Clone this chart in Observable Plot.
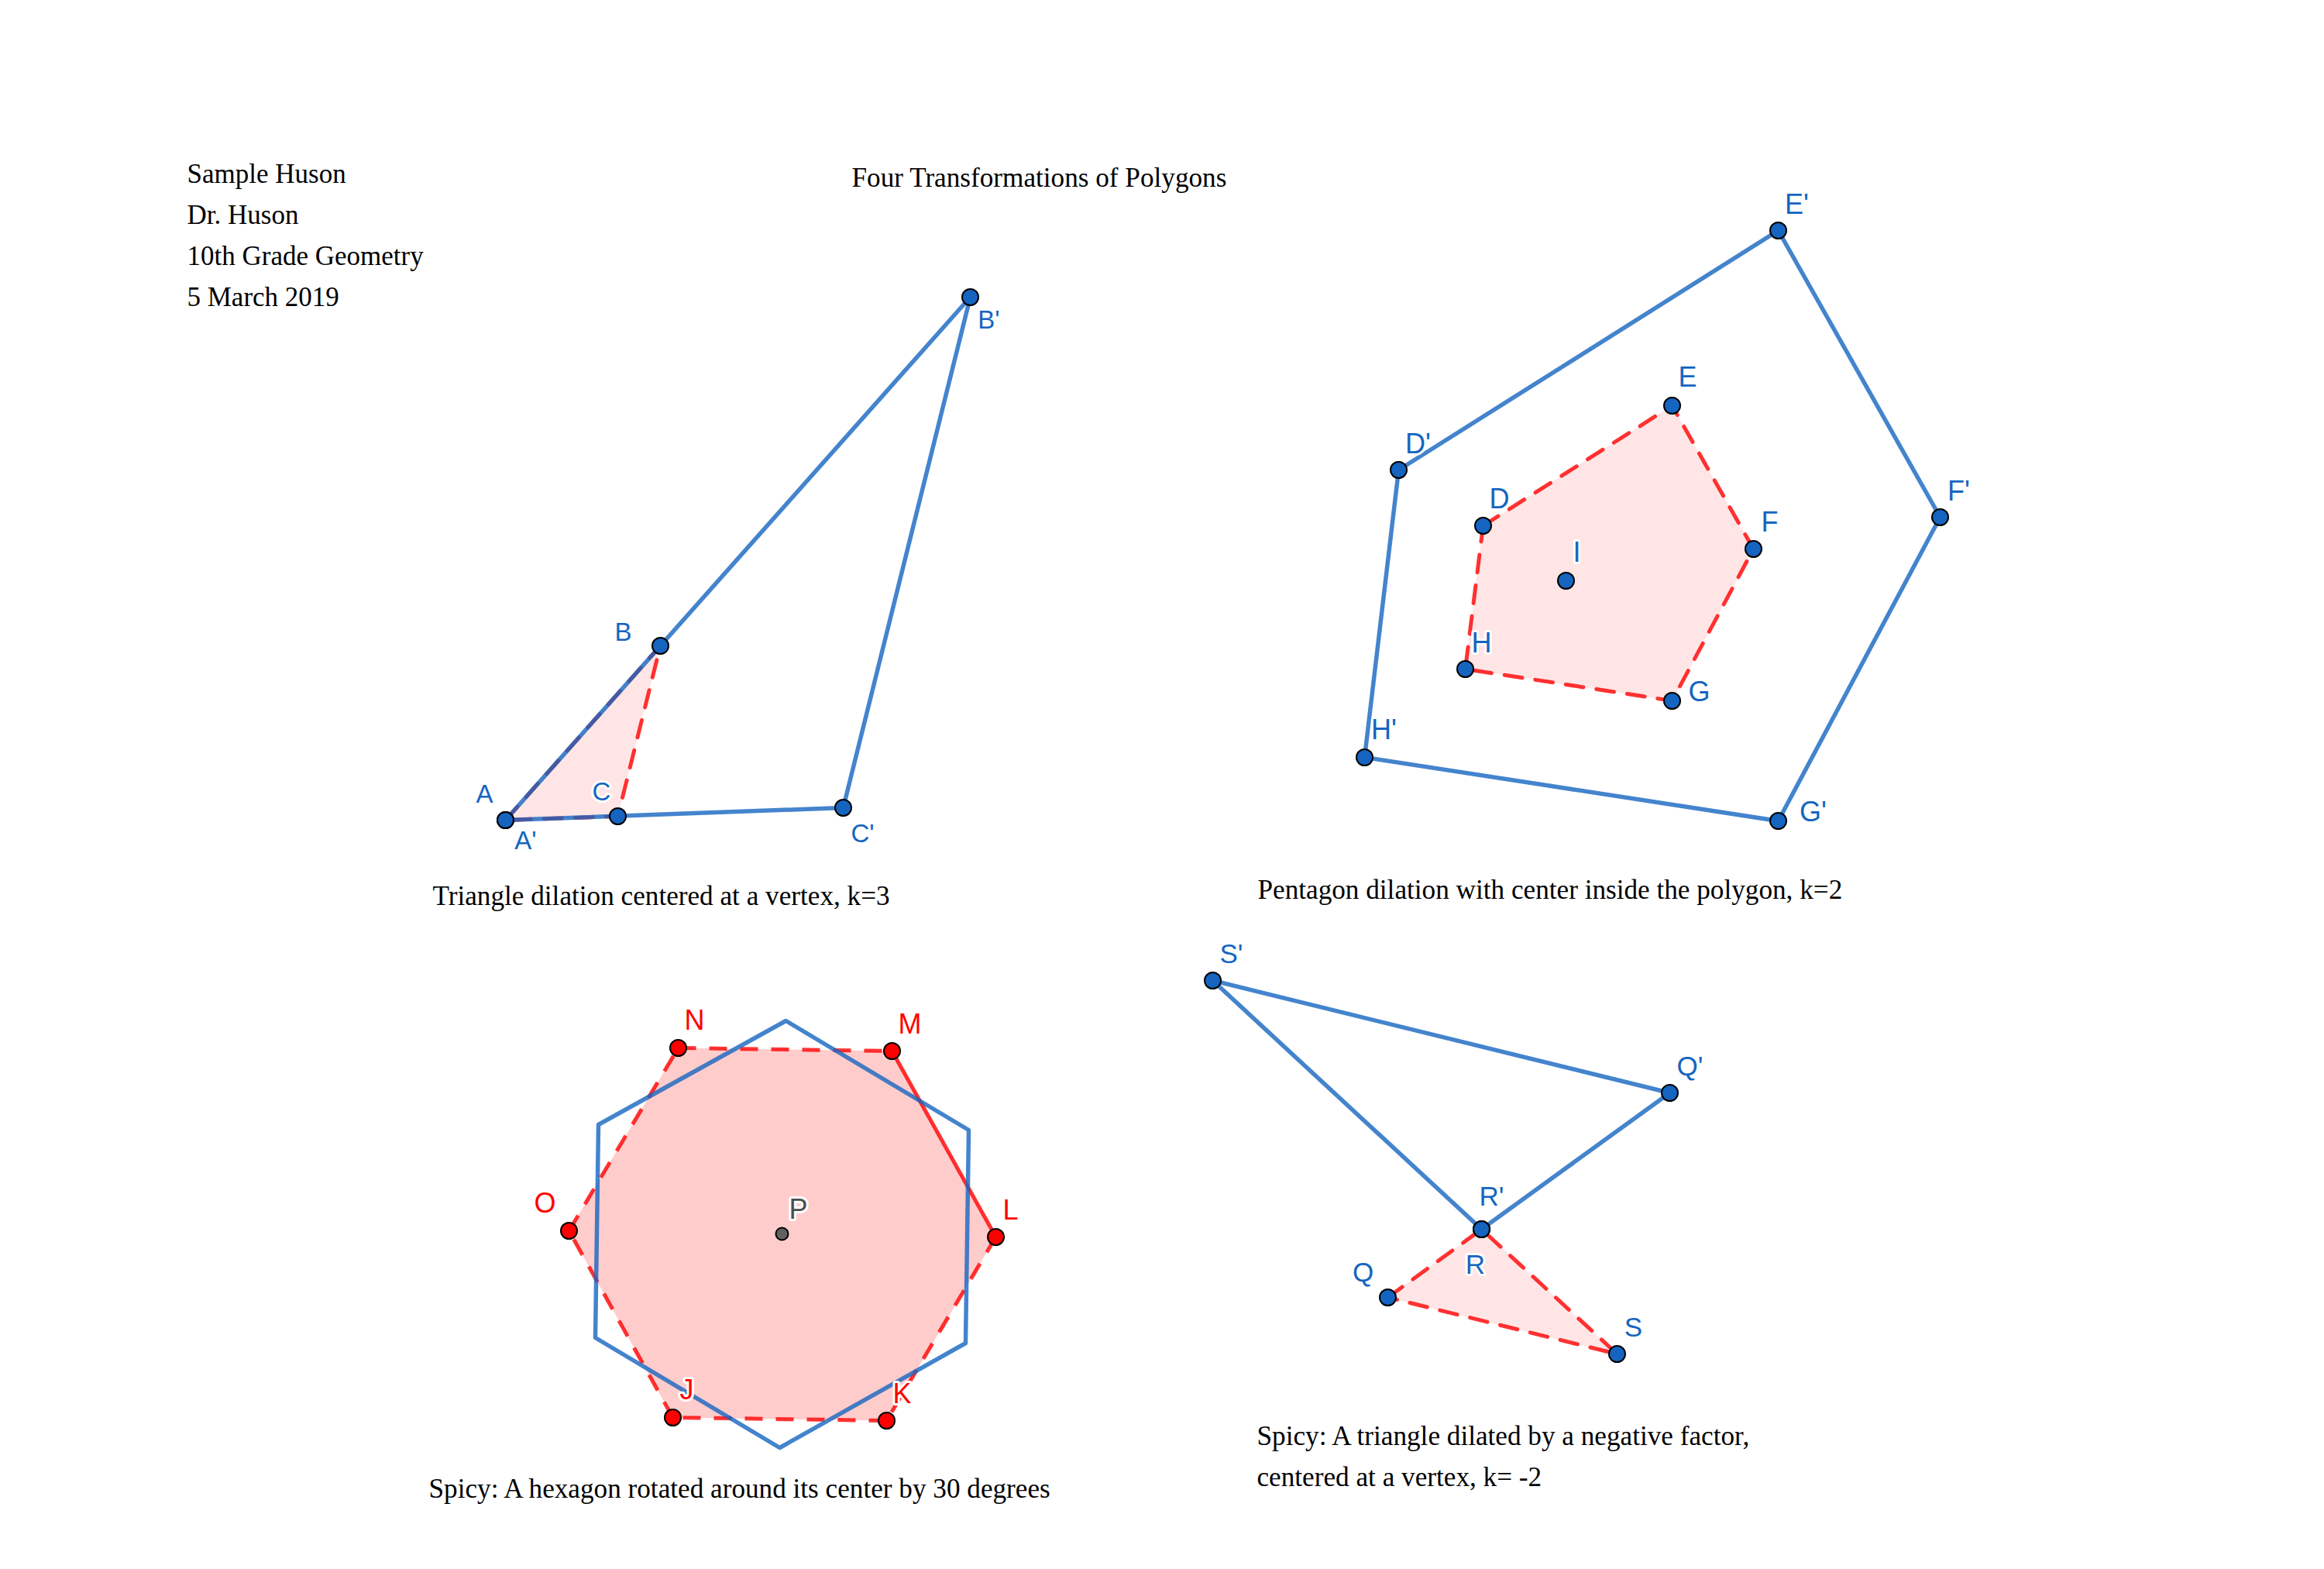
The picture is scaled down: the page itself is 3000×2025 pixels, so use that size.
<!DOCTYPE html>
<html><head><meta charset="utf-8">
<script src="https://cdn.jsdelivr.net/npm/d3@7"></script>
<script src="https://cdn.jsdelivr.net/npm/@observablehq/plot@0.6"></script>
<style>
html,body{margin:0;padding:0;background:#fff;}
#chart svg{display:block;background:#fff;}
</style></head><body><div id="chart"></div>
<script>
// ---------- text ----------
const headerLines = ["Sample Huson", "Dr. Huson", "10th Grade Geometry", "5 March 2019"];
const titleText = ["Four Transformations of Polygons"];
const captionTexts = [
  "Triangle dilation centered at a vertex, k=3",
  "Pentagon dilation with center inside the polygon, k=2",
  "Spicy: A hexagon rotated around its center by 30 degrees",
  "Spicy: A triangle dilated by a negative factor,",
  "centered at a vertex, k= -2"
];
const captionX = [558, 1623, 553, 1622, 1622];
const captionY = [1167, 1159, 1932, 1864, 1917];

// ---------- figure 1: triangle dilation, k = 3, center A ----------
const tri1Names = ["A", "B", "C"];
const tri1X = [652, 852, 797];
const tri1Y = [1058, 833, 1053];
const tri1ImgNames = ["A'", "B'", "C'"];
const tri1ImgX = [652, 1252, 1088];
const tri1ImgY = [1058, 383, 1042];
const tri1LabelNames = ["A", "A'", "B", "C", "B'", "C'"];
const tri1LabelX = [625, 678, 804, 776, 1276, 1113];
const tri1LabelY = [1025, 1085, 816, 1022, 413, 1076];

// ---------- figure 2: pentagon dilation, k = 2, center I ----------
const pentNames = ["D", "E", "F", "G", "H"];
const pentX = [1914, 2158, 2263, 2158, 1891];
const pentY = [678, 523, 708, 904, 863];
const pentCenter = {name: "I", x: 2021, y: 749};
const pentImgNames = ["D'", "E'", "F'", "G'", "H'"];
const pentImgX = [1805, 2295, 2504, 2295, 1761];
const pentImgY = [606, 297, 667, 1059, 977];
const pentLabelNames = ["D", "E", "F", "G", "H", "I", "D'", "E'", "F'", "G'", "H'"];
const pentLabelX = [1935, 2178, 2284, 2193, 1912, 2035, 1830, 2319, 2528, 2340, 1786];
const pentLabelY = [644, 487, 674, 893, 830, 713, 573, 264, 634, 1048, 942];

// ---------- figure 3: hexagon rotated 30 degrees about P ----------
const hexNames = ["N", "M", "L", "K", "J", "O"];
const hexX = [875, 1151, 1285, 1144, 868, 734];
const hexY = [1352, 1356, 1596, 1833, 1829, 1588];
const hexSolidEdges = ["ML"];
const hexCenter = {name: "P", x: 1009, y: 1592};
const hexRotX = [1014, 1250, 1246, 1006, 768, 772];
const hexRotY = [1317, 1458, 1733, 1868, 1726, 1451];
const hexLabelNames = ["N", "M", "L", "K", "J", "O"];
const hexLabelX = [896, 1174, 1304, 1164, 886, 703];
const hexLabelY = [1317, 1322, 1562, 1799, 1794, 1553];
const hexCenterLabel = {name: "P", x: 1030, y: 1561};

// ---------- figure 4: triangle dilation, k = -2, center R ----------
const tri2Names = ["Q", "R", "S"];
const tri2X = [1791, 1912, 2087];
const tri2Y = [1674, 1586, 1747];
const tri2ImgNames = ["Q'", "R'", "S'"];
const tri2ImgX = [2155, 1912, 1565];
const tri2ImgY = [1410, 1586, 1265];
const tri2LabelNames = ["S'", "Q'", "R'", "R", "Q", "S"];
const tri2LabelX = [1589, 2181, 1925, 1904, 1759, 2108];
const tri2LabelY = [1231, 1376, 1544, 1632, 1642, 1713];

// ---------- helpers ----------
const pts = (names, xs, ys) => names.map((name, i) => ({name, x: xs[i], y: ys[i]}));
const edges = (p) => p.map((a, i) => { const b = p[(i + 1) % p.length]; return {key: a.name + b.name, x1: a.x, y1: a.y, x2: b.x, y2: b.y}; });

const BLUE = "#1565C0", RED = "#FF0000";
const dash = "23,17";

const tri1 = pts(tri1Names, tri1X, tri1Y);
const tri1Img = pts(tri1ImgNames, tri1ImgX, tri1ImgY);
const tri1Labels = pts(tri1LabelNames, tri1LabelX, tri1LabelY);
const pent = pts(pentNames, pentX, pentY);
const pentImg = pts(pentImgNames, pentImgX, pentImgY);
const pentLabels = pts(pentLabelNames, pentLabelX, pentLabelY);
const hex = pts(hexNames, hexX, hexY);
const hexRot = pts(hexNames.map((n) => n + "r"), hexRotX, hexRotY);
const hexLabels = pts(hexLabelNames, hexLabelX, hexLabelY);
const hexEdges = edges(hex);
const tri2 = pts(tri2Names, tri2X, tri2Y);
const tri2Img = pts(tri2ImgNames, tri2ImgX, tri2ImgY);
const tri2Labels = pts(tri2LabelNames, tri2LabelX, tri2LabelY);
const header = headerLines.map((t, i) => ({t, i}));
const captions = captionTexts.map((t, i) => ({t, x: captionX[i], y: captionY[i]}));

const fillPoly = (data, op) => Plot.line(data, {x: "x", y: "y", curve: "linear-closed", fill: RED, fillOpacity: op, stroke: null});
const dashPoly = (data) => Plot.line(data, {x: "x", y: "y", curve: "linear-closed", fill: "none", stroke: RED, strokeOpacity: 0.8, strokeWidth: 5, strokeDasharray: dash});
const bluePoly = (data) => Plot.line(data, {x: "x", y: "y", curve: "linear-closed", fill: "none", stroke: BLUE, strokeOpacity: 0.8, strokeWidth: 5.5, strokeLinejoin: "round"});
const dots = (data, color, r = 10.5) => Plot.dot(data, {x: "x", y: "y", r, fill: color, stroke: "black", strokeWidth: 2});
const labels = (data, color, size) => Plot.text(data, {x: "x", y: "y", text: "name", fill: color, stroke: "white", strokeWidth: 6, fontSize: size, fontFamily: "Liberation Sans, Arial, sans-serif"});
const serif = "Liberation Serif, Times New Roman, serif";

const chart = Plot.plot({
  width: 3000,
  height: 2025,
  margin: 0,
  x: {domain: [0, 3000], range: [0, 3000], axis: null},
  y: {domain: [0, 2025], range: [0, 2025], axis: null},
  marks: [
    // header & title
    Plot.text(header, {x: () => 241, y: (d) => 235 + d.i * 53, text: "t", textAnchor: "start", lineAnchor: "bottom", fontSize: 35, fontFamily: serif, fill: "black"}),
    Plot.text(titleText, {x: () => 1099, y: () => 240, text: (d) => d, textAnchor: "start", lineAnchor: "bottom", fontSize: 35.2, fontFamily: serif, fill: "black"}),
    Plot.text(captions, {x: "x", y: "y", text: "t", textAnchor: "start", lineAnchor: "bottom", fontSize: 35.2, fontFamily: serif, fill: "black"}),

    // figure 1
    fillPoly(tri1, 0.1),
    dashPoly(tri1),
    bluePoly(tri1Img),
    dots(tri1Img, BLUE),
    dots(tri1, BLUE),
    labels(tri1Labels, BLUE, 33),

    // figure 2
    fillPoly(pent, 0.1),
    dashPoly(pent),
    bluePoly(pentImg),
    dots(pentImg, BLUE),
    dots(pent, BLUE),
    dots([pentCenter], BLUE),
    labels(pentLabels, BLUE, 36),

    // figure 3
    fillPoly(hex, 0.2),
    Plot.link(hexEdges.filter((e) => !hexSolidEdges.includes(e.key)), {x1: "x1", y1: "y1", x2: "x2", y2: "y2", stroke: RED, strokeOpacity: 0.8, strokeWidth: 5, strokeDasharray: dash}),
    Plot.link(hexEdges.filter((e) => hexSolidEdges.includes(e.key)), {x1: "x1", y1: "y1", x2: "x2", y2: "y2", stroke: RED, strokeOpacity: 0.8, strokeWidth: 5}),
    bluePoly(hexRot),
    dots(hex, RED),
    dots([hexCenter], "#616161", 8),
    labels(hexLabels, RED, 36),
    labels([hexCenterLabel], "#4D4D4D", 36),

    // figure 4
    fillPoly(tri2, 0.1),
    dashPoly(tri2),
    bluePoly(tri2Img),
    dots(tri2, BLUE),
    dots(tri2Img, BLUE),
    labels(tri2Labels, BLUE, 35)
  ]
});
document.getElementById("chart").appendChild(chart);
</script></body></html>
